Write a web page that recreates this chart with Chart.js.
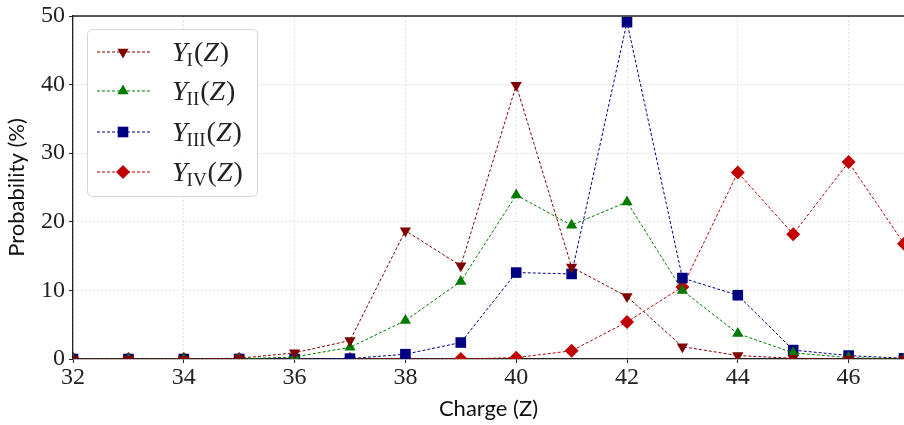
<!DOCTYPE html>
<html>
<head>
<meta charset="utf-8">
<script src="https://cdn.jsdelivr.net/npm/chart.js@4/dist/chart.umd.min.js"></script>
<style>
  html, body { margin: 0; padding: 0; background: #fff; }
  #wrap { width: 904px; height: 425px; }
</style>
</head>
<body>
<div id="wrap"><canvas id="chargeChart" width="904" height="425"></canvas></div>
<script>
// charge numbers and yields (%)
const charges = [32, 33, 34, 35, 36, 37, 38, 39, 40, 41, 42, 43, 44, 45, 46, 47];
const yieldI   = [0, 0, 0, 0.1, 0.9, 2.7, 18.7, 13.6, 39.9, 13.4, 9.1, 1.8, 0.5, 0.1, 0, 0];
const yieldII  = [0, 0, 0, 0, 0.3, 1.7, 5.6, 11.3, 23.9, 19.5, 22.9, 10.0, 3.7, 0.9, 0.2, 0];
const yieldIII = [0, 0, 0, 0, 0, 0.05, 0.7, 2.4, 12.6, 12.4, 49.1, 11.8, 9.3, 1.3, 0.5, 0.1];
const yieldIV  = [0, 0, 0, 0, 0, 0, 0, 0, 0.2, 1.2, 5.4, 10.5, 27.2, 18.2, 28.7, 16.8];
const seriesSubs = ['I', 'II', 'III', 'IV'];
const xTicks = [32, 34, 36, 38, 40, 42, 44, 46];
const yTicks = [0, 10, 20, 30, 40, 50];

const serif = 'Liberation Serif';
const sans = 'Lato';

function pts(vals) {
    return charges.map((z, i) => ({ x: z, y: vals[i] }));
}

const styles = [
    { color: '#7f0000', pointStyle: 'triangle', rotation: 180, radius: 6.5 },
    { color: '#007a00', pointStyle: 'triangle', rotation: 0, radius: 6.5 },
    { color: '#000080', pointStyle: 'rect', rotation: 0, radius: 7.5 },
    { color: '#c00000', pointStyle: 'rectRot', rotation: 0, radius: 7 }
];
const allSeries = [yieldI, yieldII, yieldIII, yieldIV];

const datasets = allSeries.map((vals, i) => ({
    label: 'Y' + seriesSubs[i] + '(Z)',
    data: pts(vals),
    borderColor: styles[i].color,
    backgroundColor: styles[i].color,
    borderWidth: 1,
    borderDash: [3, 2],
    pointStyle: styles[i].pointStyle,
    rotation: styles[i].rotation,
    pointRadius: styles[i].radius,
    pointBorderWidth: 0,
    pointBackgroundColor: styles[i].color,
    tension: 0
}));

// legend with subscripts + top spine, drawn by hand
const legendPlugin = {
    id: 'mathLegend',
    afterDraw(chart) {
        const ctx = chart.ctx;
        const a = chart.chartArea;
        ctx.save();
        ctx.strokeStyle = '#222';
        ctx.lineWidth = 1.3;
        ctx.beginPath();
        ctx.moveTo(a.left, a.top);
        ctx.lineTo(a.right, a.top);
        ctx.stroke();

        // legend box
        const bx = 87, by = 29, bw = 170, bh = 167;
        ctx.fillStyle = 'rgba(255,255,255,0.85)';
        ctx.strokeStyle = '#d6d6d6';
        ctx.lineWidth = 1;
        ctx.beginPath();
        ctx.roundRect(bx + 0.5, by + 0.5, bw, bh, 5);
        ctx.fill();
        ctx.stroke();

        const rows = [52, 91, 132, 172];
        rows.forEach((ry, i) => {
            const st = styles[i];
            ctx.strokeStyle = st.color;
            ctx.lineWidth = 1;
            ctx.setLineDash([3, 2]);
            ctx.beginPath();
            ctx.moveTo(97, ry);
            ctx.lineTo(150, ry);
            ctx.stroke();
            ctx.setLineDash([]);
            ctx.fillStyle = st.color;
            Chart.helpers.drawPoint(ctx, {
                pointStyle: st.pointStyle,
                rotation: st.rotation,
                radius: st.radius,
                borderWidth: 0
            }, 123, ry);

            // label Y_sub(Z)
            ctx.fillStyle = '#222';
            ctx.textBaseline = 'alphabetic';
            ctx.textAlign = 'left';
            let x = 172;
            const base = ry + 9;
            ctx.font = "italic 28px 'Liberation Serif'";
            ctx.fillText('Y', x, base);
            x += ctx.measureText('Y').width - 1;
            ctx.font = "19px 'Liberation Serif'";
            ctx.fillText(seriesSubs[i], x, base + 5);
            x += ctx.measureText(seriesSubs[i]).width + 1;
            ctx.font = "28px 'Liberation Serif'";
            ctx.fillText('(', x, base);
            x += ctx.measureText('(').width;
            ctx.font = "italic 28px 'Liberation Serif'";
            ctx.fillText('Z', x, base);
            x += ctx.measureText('Z').width + 1;
            ctx.font = "28px 'Liberation Serif'";
            ctx.fillText(')', x, base);
        });
        ctx.restore();
    }
};

Chart.defaults.font.family = serif;

const ctx1 = document.getElementById('chargeChart').getContext('2d');

const chargeChart = new Chart(ctx1, {
    type: 'line',
    data: { datasets: datasets },
    options: {
        responsive: false,
        animation: false,
        layout: { autoPadding: false, padding: { top: 16, right: 0, left: 0, bottom: 0 } },
        plugins: {
            legend: { display: false },
            tooltip: { enabled: false },
            title: { display: false }
        },
        scales: {
            x: {
                type: 'linear',
                min: 32,
                max: 47,
                afterBuildTicks: scale => { scale.ticks = xTicks.map(v => ({ value: v })); },
                afterFit: scale => {
                    scale.height = 66;
                    scale.paddingRight = 0;
                    scale.paddingLeft = 0;
                },
                ticks: {
                    color: '#222',
                    font: { family: serif, size: 24 },
                    padding: 0,
                    maxRotation: 0,
                    autoSkip: false
                },
                grid: {
                    color: '#e2e2e2',
                    tickColor: '#222',
                    tickLength: 4,
                    lineWidth: 1
                },
                border: { display: true, color: '#222', width: 1.3, dash: [2, 2] },
                title: {
                    display: true,
                    text: 'Charge (Z)',
                    color: '#111',
                    font: { family: sans, size: 22 },
                    padding: { top: 0, bottom: 3 }
                }
            },
            y: {
                min: 0,
                max: 50,
                afterBuildTicks: scale => { scale.ticks = yTicks.map(v => ({ value: v })); },
                afterFit: scale => {
                    scale.width = 73;
                    scale.paddingTop = 0;
                    scale.paddingBottom = 0;
                },
                ticks: {
                    color: '#222',
                    font: { family: serif, size: 24 },
                    padding: 4
                },
                grid: {
                    color: '#e2e2e2',
                    tickColor: '#222',
                    tickLength: 4,
                    lineWidth: 1
                },
                border: { display: true, color: '#222', width: 1.3, dash: [2, 2] },
                title: {
                    display: true,
                    text: 'Probability (%)',
                    color: '#111',
                    font: { family: sans, size: 22 },
                    padding: { top: 4, bottom: 0 }
                }
            }
        }
    },
    plugins: [legendPlugin]
});
</script>
</body>
</html>
